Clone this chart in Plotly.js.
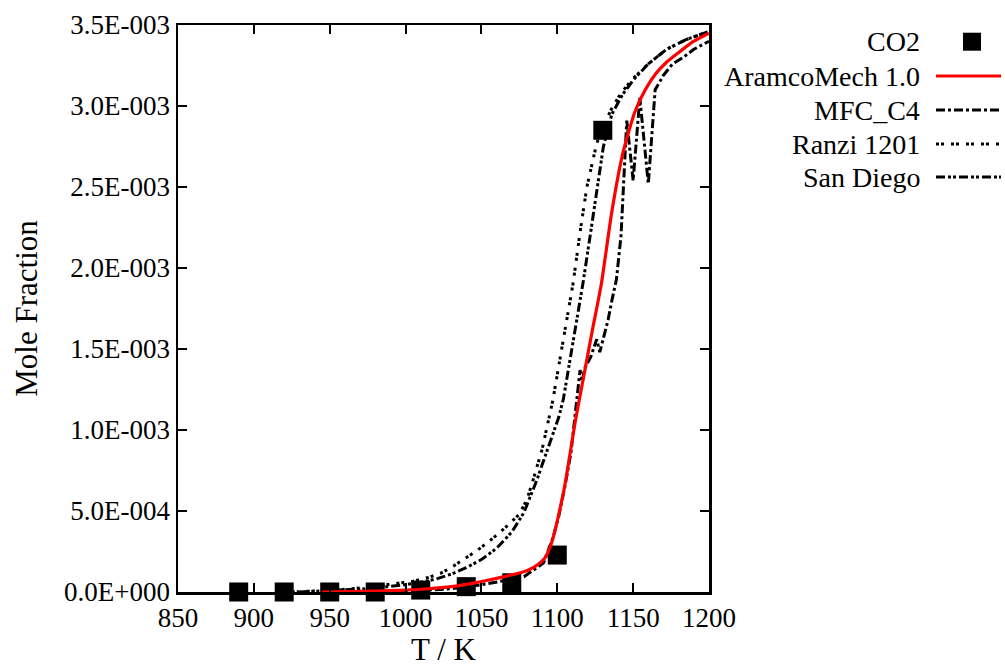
<!DOCTYPE html>
<html>
<head>
<meta charset="utf-8">
<script src="https://cdn.plot.ly/plotly-3.0.1.min.js"></script>
<style>html,body{margin:0;padding:0;background:#fff;}#chart{width:1005px;height:667px;}</style>
</head>
<body>
<div id="chart"></div>
<script>
// ---- data ----
const co2T = [890, 920, 950, 980, 1010, 1040, 1070, 1100, 1130];
const co2Y = [0, 0, 0, 0, 0.000012, 0.000033, 0.000057, 0.000228, 0.00285];

const aramcoT = [945, 965, 980, 1000, 1015, 1030, 1045, 1055, 1065, 1078, 1085, 1091, 1095, 1098, 1101, 1105, 1108, 1112, 1117, 1123, 1129, 1136, 1143, 1151, 1158, 1165, 1172, 1180, 1190, 1200];
const aramcoY = [0, 0.000002, 0.000005, 0.000012, 0.00002, 0.000033, 0.000055, 0.000074, 0.000095, 0.000125, 0.000155, 0.0002, 0.00027, 0.00036, 0.00048, 0.00066, 0.00083, 0.00106, 0.00131, 0.00161, 0.0019, 0.00235, 0.0027, 0.00296, 0.0031, 0.0032, 0.00327, 0.00333, 0.0034, 0.00345];

const mfcT = [960, 1000, 1030, 1049, 1065, 1078, 1091, 1097, 1101, 1105, 1109, 1113, 1115, 1116.5, 1118, 1122, 1124, 1126, 1128, 1130, 1133.5, 1136, 1139, 1142, 1144, 1145.8, 1150, 1154.4, 1160, 1164.5, 1170, 1176, 1183, 1190, 1200];
const mfcY = [0, 0.000004, 0.00002, 0.000043, 0.00007, 0.000094, 0.00018, 0.00033, 0.00047, 0.00065, 0.00086, 0.00122, 0.00137, 0.00130, 0.00138, 0.00145, 0.0015, 0.00156, 0.00148, 0.00155, 0.00168, 0.0018, 0.00193, 0.0022, 0.00255, 0.00291, 0.00254, 0.00305, 0.00252, 0.0031, 0.00319, 0.00326, 0.0033, 0.00335, 0.0034];

const ranziT = [925, 940, 950, 970, 983, 995, 1005, 1015, 1023, 1030, 1038, 1047, 1056, 1066, 1075, 1080, 1084, 1090, 1097, 1104, 1110.5, 1115, 1119.5, 1126, 1135, 1142, 1150, 1160, 1172, 1185, 1200];
const ranziY = [0, 0.000005, 0.00001, 0.000025, 0.00004, 0.000052, 0.000066, 0.00009, 0.000115, 0.00015, 0.0002, 0.000255, 0.00032, 0.0004, 0.00048, 0.00057, 0.00069, 0.00088, 0.00118, 0.00155, 0.00191, 0.00222, 0.0025, 0.00277, 0.00297, 0.00308, 0.00317, 0.00326, 0.00335, 0.00341, 0.00346];

const sandiegoT = [930, 950, 970, 985, 1000, 1010, 1020, 1030, 1040, 1050, 1060, 1070, 1078, 1086.5, 1092, 1097, 1101, 1104, 1110, 1117, 1122, 1126, 1130.4, 1136, 1143, 1150, 1160, 1172, 1185, 1200];
const sandiegoY = [0, 0.000007, 0.000018, 0.00003, 0.000045, 0.00006, 0.00008, 0.00011, 0.00015, 0.0002, 0.00027, 0.00037, 0.00049, 0.00069, 0.00084, 0.00098, 0.00108, 0.00119, 0.00152, 0.00191, 0.00222, 0.00248, 0.00275, 0.00295, 0.00307, 0.00316, 0.00326, 0.00335, 0.00341, 0.00346];

const xTickVals = [850, 900, 950, 1000, 1050, 1100, 1150, 1200];
const yTickVals = [0, 0.0005, 0.001, 0.0015, 0.002, 0.0025, 0.003, 0.0035];
const yTickText = ['0.0E+000', '5.0E-004', '1.0E-003', '1.5E-003', '2.0E-003', '2.5E-003', '3.0E-003', '3.5E-003'];

const legendNames = ['CO2', 'AramcoMech 1.0', 'MFC_C4', 'Ranzi 1201', 'San Diego'];

// ---- styles ----
const FONT = "'Liberation Serif', 'DejaVu Serif', serif";
const DASH_MFC = '9px,3px,3px,3px';
const DASH_RANZI = '3px,2px,3px,7px';
const DASH_SD = '9px,3px,3px,2px,3px,3px';
const LW = 3;

const traces = [
  {x: co2T, y: co2Y, type: 'scatter', mode: 'markers', name: legendNames[0], cliponaxis: false,
   marker: {symbol: 'square', size: 19, color: '#000'}},
  {x: mfcT, y: mfcY, type: 'scatter', mode: 'lines', name: legendNames[2],
   line: {color: '#000', width: LW, dash: DASH_MFC}},
  {x: ranziT, y: ranziY, type: 'scatter', mode: 'lines', name: legendNames[3],
   line: {color: '#000', width: LW, dash: DASH_RANZI}},
  {x: sandiegoT, y: sandiegoY, type: 'scatter', mode: 'lines', name: legendNames[4],
   line: {color: '#000', width: LW, dash: DASH_SD}},
  {x: aramcoT, y: aramcoY, type: 'scatter', mode: 'lines', name: legendNames[1],
   line: {color: '#ff0000', width: 3.2, shape: 'spline', smoothing: 0.6}}
];

// legend geometry (pixels -> paper)
const L = 178, R = 709, T = 25, B = 592;
const px = v => (v - L) / (R - L);
const py = v => (B - v) / (B - T);
const legendY = [41.7, 76, 110, 144, 177];
const textRight = 922, lineX0 = 936, lineX1 = 1001;

const annotations = legendNames.map((n, i) => ({
  text: n, xref: 'paper', yref: 'paper', x: px(textRight), y: py(legendY[i]),
  xanchor: 'right', yanchor: 'middle', showarrow: false,
  font: {family: FONT, size: 28, color: '#000'}
}));

const shapes = [
  {type: 'rect', xref: 'paper', yref: 'paper', x0: px(963), x1: px(981), y0: py(legendY[0] + 9), y1: py(legendY[0] - 9),
   fillcolor: '#000', line: {width: 0}},
  {type: 'line', xref: 'paper', yref: 'paper', x0: px(lineX0), x1: px(lineX1), y0: py(legendY[1]), y1: py(legendY[1]),
   line: {color: '#ff0000', width: 3.2}},
  {type: 'line', xref: 'paper', yref: 'paper', x0: px(lineX0), x1: px(lineX1), y0: py(legendY[2]), y1: py(legendY[2]),
   line: {color: '#000', width: LW, dash: DASH_MFC}},
  {type: 'line', xref: 'paper', yref: 'paper', x0: px(lineX0), x1: px(lineX1), y0: py(legendY[3]), y1: py(legendY[3]),
   line: {color: '#000', width: LW, dash: DASH_RANZI}},
  {type: 'line', xref: 'paper', yref: 'paper', x0: px(lineX0), x1: px(lineX1), y0: py(legendY[4]), y1: py(legendY[4]),
   line: {color: '#000', width: LW, dash: DASH_SD}}
];

const axisCommon = {
  showgrid: false, zeroline: false, showline: true, linecolor: '#000', linewidth: 2.5,
  mirror: 'ticks', ticks: 'inside', ticklen: 9, tickwidth: 2, tickcolor: '#000',
  tickfont: {family: FONT, size: 27, color: '#000'}
};

const layout = {
  width: 1005, height: 667,
  margin: {l: L, r: 1005 - R, t: T, b: 667 - B},
  paper_bgcolor: '#fff', plot_bgcolor: '#fff',
  showlegend: false,
  font: {family: FONT, color: '#000'},
  xaxis: Object.assign({}, axisCommon, {
    range: [850, 1200], tickmode: 'array', tickvals: xTickVals,
    title: {text: 'T / K', font: {family: FONT, size: 31, color: '#000'}, standoff: 12}
  }),
  yaxis: Object.assign({}, axisCommon, {
    range: [0, 0.0035], tickmode: 'array', tickvals: yTickVals, ticktext: yTickText,
    title: {text: 'Mole Fraction', font: {family: FONT, size: 31, color: '#000'}, standoff: 18}
  }),
  annotations: annotations,
  shapes: shapes
};

Plotly.newPlot('chart', traces, layout, {displayModeBar: false, staticPlot: true});
</script>
</body>
</html>
